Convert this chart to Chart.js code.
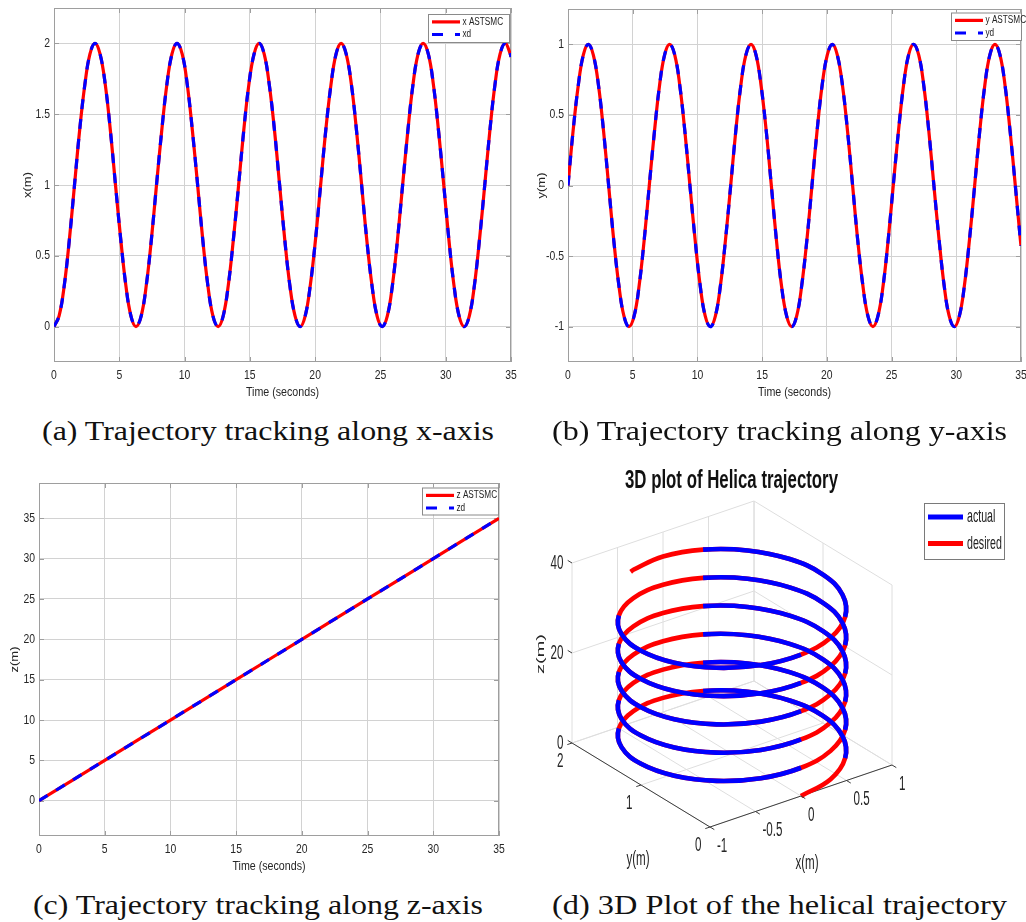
<!DOCTYPE html>
<html>
<head>
<meta charset="utf-8">
<script src="https://cdn.jsdelivr.net/npm/chart.js@4.4.1/dist/chart.umd.min.js"></script>
<style>
html,body{margin:0;padding:0;background:#fff;}
body{width:1026px;height:922px;position:relative;overflow:hidden;}
canvas{position:absolute;}
.cap{position:absolute;font-family:"Liberation Serif","Times New Roman",serif;font-size:28px;line-height:28px;color:#111;white-space:nowrap;transform-origin:0 0;}
</style>
</head>
<body>
<canvas id="ca" width="530" height="410" style="left:0;top:0"></canvas>
<canvas id="cb" width="506" height="410" style="left:520px;top:0"></canvas>
<canvas id="cc" width="515" height="410" style="left:0;top:470px"></canvas>
<canvas id="cd" width="511" height="420" style="left:515px;top:455px"></canvas>
<div class="cap" id="capA">(a) Trajectory tracking along x-axis</div>
<div class="cap" id="capB">(b) Trajectory tracking along y-axis</div>
<div class="cap" id="capC">(c) Trajectory tracking along z-axis</div>
<div class="cap" id="capD">(d) 3D Plot of the helical trajectory</div>
<script>
// ---------------- data ----------------
const time = [
  0, 0.39, 0.79, 1.18, 1.57, 1.96, 2.36, 2.75, 3.14, 3.53, 3.93, 4.32, 4.71, 5.11, 5.50, 5.89,
  6.28, 6.68, 7.07, 7.46, 7.85, 8.25, 8.64, 9.03, 9.42, 9.82, 10.21, 10.60, 11.00, 11.39, 11.78, 12.17,
  12.57, 12.96, 13.35, 13.74, 14.14, 14.53, 14.92, 15.32, 15.71, 16.10, 16.49, 16.89, 17.28, 17.67, 18.06, 18.46,
  18.85, 19.24, 19.63, 20.03, 20.42, 20.81, 21.21, 21.60, 21.99, 22.38, 22.78, 23.17, 23.56, 23.95, 24.35, 24.74,
  25.13, 25.53, 25.92, 26.31, 26.70, 27.10, 27.49, 27.88, 28.27, 28.67, 29.06, 29.45, 29.85, 30.24, 30.63, 31.02,
  31.42, 31.81, 32.20, 32.59, 32.99, 33.38, 33.77, 34.16, 34.56, 34.95, 35
];
const xAstsmc = [
  0, 0.076, 0.293, 0.617, 1, 1.383, 1.707, 1.924, 2, 1.924, 1.707, 1.383, 1, 0.617, 0.293, 0.076,
  0, 0.076, 0.293, 0.617, 1, 1.383, 1.707, 1.924, 2, 1.924, 1.707, 1.383, 1, 0.617, 0.293, 0.076,
  0, 0.076, 0.293, 0.617, 1, 1.383, 1.707, 1.924, 2, 1.924, 1.707, 1.383, 1, 0.617, 0.293, 0.076,
  0, 0.076, 0.293, 0.617, 1, 1.383, 1.707, 1.924, 2, 1.924, 1.707, 1.383, 1, 0.617, 0.293, 0.076,
  0, 0.076, 0.293, 0.617, 1, 1.383, 1.707, 1.924, 2, 1.924, 1.707, 1.383, 1, 0.617, 0.293, 0.076,
  0, 0.076, 0.293, 0.617, 1, 1.383, 1.707, 1.924, 2, 1.924, 1.904
];
const xDesired = [
  0, 0.076, 0.293, 0.617, 1, 1.383, 1.707, 1.924, 2, 1.924, 1.707, 1.383, 1, 0.617, 0.293, 0.076,
  0, 0.076, 0.293, 0.617, 1, 1.383, 1.707, 1.924, 2, 1.924, 1.707, 1.383, 1, 0.617, 0.293, 0.076,
  0, 0.076, 0.293, 0.617, 1, 1.383, 1.707, 1.924, 2, 1.924, 1.707, 1.383, 1, 0.617, 0.293, 0.076,
  0, 0.076, 0.293, 0.617, 1, 1.383, 1.707, 1.924, 2, 1.924, 1.707, 1.383, 1, 0.617, 0.293, 0.076,
  0, 0.076, 0.293, 0.617, 1, 1.383, 1.707, 1.924, 2, 1.924, 1.707, 1.383, 1, 0.617, 0.293, 0.076,
  0, 0.076, 0.293, 0.617, 1, 1.383, 1.707, 1.924, 2, 1.924, 1.904
];
const yAstsmc = [
  0, 0.383, 0.707, 0.924, 1, 0.924, 0.707, 0.383, 0, -0.383, -0.707, -0.924, -1, -0.924, -0.707, -0.383,
  0, 0.383, 0.707, 0.924, 1, 0.924, 0.707, 0.383, 0, -0.383, -0.707, -0.924, -1, -0.924, -0.707, -0.383,
  0, 0.383, 0.707, 0.924, 1, 0.924, 0.707, 0.383, 0, -0.383, -0.707, -0.924, -1, -0.924, -0.707, -0.383,
  0, 0.383, 0.707, 0.924, 1, 0.924, 0.707, 0.383, 0, -0.383, -0.707, -0.924, -1, -0.924, -0.707, -0.383,
  0, 0.383, 0.707, 0.924, 1, 0.924, 0.707, 0.383, 0, -0.383, -0.707, -0.924, -1, -0.924, -0.707, -0.383,
  0, 0.383, 0.707, 0.924, 1, 0.924, 0.707, 0.383, 0, -0.383, -0.428
];
const yDesired = [
  0, 0.383, 0.707, 0.924, 1, 0.924, 0.707, 0.383, 0, -0.383, -0.707, -0.924, -1, -0.924, -0.707, -0.383,
  0, 0.383, 0.707, 0.924, 1, 0.924, 0.707, 0.383, 0, -0.383, -0.707, -0.924, -1, -0.924, -0.707, -0.383,
  0, 0.383, 0.707, 0.924, 1, 0.924, 0.707, 0.383, 0, -0.383, -0.707, -0.924, -1, -0.924, -0.707, -0.383,
  0, 0.383, 0.707, 0.924, 1, 0.924, 0.707, 0.383, 0, -0.383, -0.707, -0.924, -1, -0.924, -0.707, -0.383,
  0, 0.383, 0.707, 0.924, 1, 0.924, 0.707, 0.383, 0, -0.383, -0.707, -0.924, -1, -0.924, -0.707, -0.383,
  0, 0.383, 0.707, 0.924, 1, 0.924, 0.707, 0.383, 0, -0.383, -0.428
];
const zTime    = [0, 5, 10, 15, 20, 25, 30, 35];
const zAstsmc  = [0, 5, 10, 15, 20, 25, 30, 35];
const zDesired = [0, 5, 10, 15, 20, 25, 30, 35];

// tick labels
const timeTicks = [0, 5, 10, 15, 20, 25, 30, 35];
const xPosTicks = [0, 0.5, 1, 1.5, 2];
const yPosTicks = [-1, -0.5, 0, 0.5, 1];
const zPosTicks = [0, 5, 10, 15, 20, 25, 30, 35];
const helixXTicks = [-1, -0.5, 0, 0.5, 1];
const helixYTicks = [0, 1, 2];
const helixZTicks = [0, 20, 40];
const helixXLim = [-1, 1], helixYLim = [0, 2], helixZLim = [0, 40];

// ---------------- helpers ----------------
const SANS = '"Liberation Sans", Arial, Helvetica, sans-serif';
function txt(ctx, s, x, y, o) {
  ctx.save();
  ctx.translate(x, y);
  ctx.scale(o.sx || 1, 1);
  if (o.rot) ctx.rotate(o.rot);
  ctx.font = o.font;
  ctx.fillStyle = o.color || '#262626';
  ctx.textAlign = o.align || 'center';
  ctx.textBaseline = o.baseline || 'middle';
  ctx.fillText(s, 0, 0);
  ctx.restore();
}
function fmt(v) { return String(v); }

const matlabPlugin = {
  id: 'matlab',
  beforeDatasetsDraw(chart, args, o) {
    const ctx = chart.ctx, a = chart.chartArea, xs = chart.scales.x, ys = chart.scales.y;
    ctx.save();
    ctx.strokeStyle = '#9e9e9e'; ctx.lineWidth = 1;
    ctx.strokeRect(Math.round(a.left) + 0.5, Math.round(a.top) + 0.5, Math.round(a.right - a.left) - 1, Math.round(a.bottom - a.top) - 1);
    ctx.beginPath();
    o.xTicks.forEach(v => {
      const p = Math.round(xs.getPixelForValue(v)) + 0.5;
      ctx.moveTo(p, a.bottom); ctx.lineTo(p, a.bottom - 5);
      ctx.moveTo(p, a.top); ctx.lineTo(p, a.top + 5);
    });
    o.yTicks.forEach(v => {
      const p = Math.round(ys.getPixelForValue(v)) + 0.5;
      ctx.moveTo(a.left, p); ctx.lineTo(a.left + 5, p);
      ctx.moveTo(a.right, p); ctx.lineTo(a.right - 5, p);
    });
    ctx.stroke();
    ctx.restore();
  },
  afterDraw(chart, args, o) {
    const ctx = chart.ctx, a = chart.chartArea, xs = chart.scales.x, ys = chart.scales.y;
    const f = '13px ' + SANS, sx = 0.8;
    o.xTicks.forEach(v => txt(ctx, fmt(v), xs.getPixelForValue(v), a.bottom + 13.7, {font: f, sx}));
    o.yTicks.forEach(v => txt(ctx, fmt(v), a.left - 4, ys.getPixelForValue(v), {font: f, sx, align: 'right'}));
    txt(ctx, o.xTitle, (a.left + a.right) / 2, a.bottom + 30, {font: f, sx: 0.82});
    txt(ctx, o.yTitle, a.left - o.yTitleDx, (a.top + a.bottom) / 2, {font: f, sx: 0.8, rot: -Math.PI / 2});
    // legend
    const L = o.legend;
    ctx.save();
    ctx.fillStyle = '#fff';
    ctx.fillRect(L.x, L.y, L.w, L.h);
    ctx.strokeStyle = '#8a8a8a'; ctx.lineWidth = 1;
    ctx.strokeRect(L.x + 0.5, L.y + 0.5, L.w, L.h);
    L.items.forEach((di, i) => {
      const ds = chart.data.datasets[di];
      const yy = L.y + 7.9 + i * 12.6;
      ctx.save();
      ctx.strokeStyle = ds.borderColor; ctx.lineWidth = 3.2;
      ctx.setLineDash(ds.borderDash && ds.borderDash.length ? [11, 12] : []);
      ctx.beginPath(); ctx.moveTo(L.x + 4, yy); ctx.lineTo(L.x + 32, yy); ctx.stroke();
      ctx.restore();
      txt(ctx, ds.label, L.x + 34.5, yy, {font: '10px ' + SANS, sx: 0.82, align: 'left', color: '#222'});
    });
    ctx.restore();
  }
};

function ser(label, xs, ys, color, dash, order) {
  return {
    label, data: xs.map((t, i) => ({x: t, y: ys[i]})),
    borderColor: color, backgroundColor: color, borderWidth: 3.2,
    borderDash: dash, borderCapStyle: 'butt', pointRadius: 0, tension: 0.4, fill: false, order
  };
}

function make2D(id, pad, yMin, yMax, yTicks, series, o) {
  return new Chart(document.getElementById(id), {
    type: 'line',
    data: {datasets: series},
    options: {
      responsive: false, animation: false, events: [],
      layout: {padding: pad},
      plugins: {legend: {display: false}, tooltip: {enabled: false}, matlab: Object.assign({xTicks: timeTicks, yTicks}, o)},
      scales: {
        x: {
          type: 'linear', min: 0, max: 35,
          afterBuildTicks: s => { s.ticks = timeTicks.map(v => ({value: v})); },
          afterFit: s => { s.height = 0; },
          ticks: {display: false}, border: {display: false},
          grid: {color: '#d2d2d2', lineWidth: 1, drawTicks: false}
        },
        y: {
          type: 'linear', min: yMin, max: yMax,
          afterBuildTicks: s => { s.ticks = yTicks.map(v => ({value: v})); },
          afterFit: s => { s.width = 0; },
          ticks: {display: false}, border: {display: false},
          grid: {color: '#d2d2d2', lineWidth: 1, drawTicks: false}
        }
      }
    },
    plugins: [matlabPlugin]
  });
}

// (a)
make2D('ca', {left: 54, top: 8, right: 19, bottom: 48}, -0.25, 2.25, xPosTicks, [
  ser('x ASTSMC', time, xAstsmc, '#ff0000', [], 2),
  ser('xd', time, xDesired, '#0000ff', [10, 10], 1)
], {xTitle: 'Time (seconds)', yTitle: 'x(m)', yTitleDx: 26, legend: {x: 428, y: 14, w: 81, h: 28, items: [0, 1]}});

// (b)
make2D('cb', {left: 48, top: 9, right: 5, bottom: 48}, -1.25, 1.25, yPosTicks, [
  ser('y ASTSMC', time, yAstsmc, '#ff0000', [], 2),
  ser('yd', time, yDesired, '#0000ff', [10, 10], 1)
], {xTitle: 'Time (seconds)', yTitle: 'y(m)', yTitleDx: 26, legend: {x: 431, y: 12.5, w: 70, h: 27.5, items: [0, 1]}});

// (c)
make2D('cc', {left: 39, top: 13, right: 16, bottom: 44}, -4.37, 39.37, zPosTicks, [
  ser('z ASTSMC', zTime, zAstsmc, '#ff0000', [], 2),
  ser('zd', zTime, zDesired, '#0000ff', [10, 10], 1)
], {xTitle: 'Time (seconds)', yTitle: 'z(m)', yTitleDx: 24, legend: {x: 422, y: 17.5, w: 76, h: 27, items: [0, 1]}});

// ---------------- (d) 3D helix ----------------
// view: oblique projection of the MATLAB default 3-D view (az -37.5, el 30) fitted to the panel
function proj(x, y, z) {
  const u = (x - helixXLim[0]) / (helixXLim[1] - helixXLim[0]);
  const v = (y - helixYLim[0]) / (helixYLim[1] - helixYLim[0]);
  const w = (z - helixZLim[0]) / (helixZLim[1] - helixZLim[0]);
  return {x: 710 + 182 * u - 138 * v, y: 827 - 62 * u - 84 * v - 180 * w};
}
const ds3 = [];
function seg3(a, b, color, width, order) {
  ds3.push({data: [proj(a[0], a[1], a[2]), proj(b[0], b[1], b[2])], showLine: true, borderColor: color,
    borderWidth: width, pointRadius: 0, tension: 0, order});
}
const [X0, X1] = helixXLim, [Y0, Y1] = helixYLim, [Z0, Z1] = helixZLim;
const G = '#dedede';
helixXTicks.forEach(v => seg3([v, Y0, Z0], [v, Y1, Z0], G, 1, 10));
helixYTicks.forEach(v => seg3([X0, v, Z0], [X1, v, Z0], G, 1, 10));
helixXTicks.forEach(v => seg3([v, Y1, Z0], [v, Y1, Z1], G, 1, 10));
helixZTicks.forEach(v => seg3([X0, Y1, v], [X1, Y1, v], G, 1, 10));
helixYTicks.forEach(v => seg3([X1, v, Z0], [X1, v, Z1], G, 1, 10));
helixZTicks.forEach(v => seg3([X1, Y0, v], [X1, Y1, v], G, 1, 10));
seg3([X0, Y0, Z0], [X1, Y0, Z0], '#3c3c3c', 1, 8);
seg3([X0, Y0, Z0], [X0, Y1, Z0], '#3c3c3c', 1, 8);

function blueVisible(i) {
  if (i >= time.length - 1) return false;
  const m = (time[i] + time[i + 1]) / 2;
  const d = (m % (2 * Math.PI)) * 180 / Math.PI;
  return (d > 52 && d < 152) || (d > 230 && d < 357);
}
ds3.push({label: 'desired', data: time.map((t, i) => proj(yDesired[i], xDesired[i], t)), showLine: true,
  borderColor: '#ff0000', borderWidth: 4.6, pointRadius: 0, tension: 0.4, order: 2});
ds3.push({label: 'actual', data: time.map((t, i) => proj(yAstsmc[i], xAstsmc[i], t)), showLine: true,
  borderColor: '#0000ff', borderWidth: 4.6, pointRadius: 0, tension: 0.4, order: 1,
  segment: {borderColor: c => blueVisible(c.p0DataIndex) ? '#0000ff' : 'rgba(0,0,0,0)'}});

const helixPlugin = {
  id: 'helix3d',
  afterDraw(chart) {
    const ctx = chart.ctx;
    const X = v => chart.scales.x.getPixelForValue(v), Y = v => chart.scales.y.getPixelForValue(v);
    const f = '20px ' + SANS, sx = 0.58;
    ctx.save();
    ctx.strokeStyle = '#3c3c3c'; ctx.lineWidth = 1;
    ctx.beginPath();
    helixXTicks.forEach(v => { const p = proj(v, Y0, Z0); ctx.moveTo(X(p.x), Y(p.y)); ctx.lineTo(X(p.x) + 4.3, Y(p.y) + 2.6); });
    helixYTicks.forEach(v => { const p = proj(X0, v, Z0); ctx.moveTo(X(p.x), Y(p.y)); ctx.lineTo(X(p.x) - 4.7, Y(p.y) + 1.6); });
    helixZTicks.forEach(v => { const p = proj(X0, Y1, v); ctx.moveTo(X(p.x), Y(p.y)); ctx.lineTo(X(p.x) - 4.3, Y(p.y) - 2.6); });
    ctx.stroke();
    ctx.restore();
    helixXTicks.forEach(v => { const p = proj(v, Y0, Z0); txt(ctx, fmt(v), X(p.x) + 7, Y(p.y) + 19, {font: f, sx, align: 'left'}); });
    helixYTicks.forEach(v => { const p = proj(X0, v, Z0); txt(ctx, fmt(v), X(p.x) - 8.5, Y(p.y) + 18, {font: f, sx, align: 'right'}); });
    helixZTicks.forEach(v => { const p = proj(X0, Y1, v); txt(ctx, fmt(v), X(p.x) - 8.5, Y(p.y), {font: f, sx, align: 'right'}); });
    const mx = proj(0, Y0, Z0), my = proj(X0, 1, Z0), mz = proj(X0, Y1, 20);
    txt(ctx, 'x(m)', X(mx.x) + 6, Y(mx.y) + 67, {font: f, sx});
    txt(ctx, 'y(m)', X(my.x) - 3, Y(my.y) + 74, {font: f, sx});
    txt(ctx, 'z(m)', X(mz.x) - 31, Y(mz.y) + 1, {font: f, sx, rot: -Math.PI / 2});
    // title
    const title = '3D plot of Helica trajectory';
    ctx.font = 'bold 25px ' + SANS;
    const tw = ctx.measureText(title).width;
    txt(ctx, title, X(731.5), Y(488), {font: 'bold 25px ' + SANS, sx: 213 / tw, baseline: 'alphabetic', color: '#111'});
    // legend
    const bx = X(924), by = Y(503), bw = 80, bh = 56;
    ctx.save();
    ctx.fillStyle = '#fff'; ctx.fillRect(bx, by, bw, bh);
    ctx.strokeStyle = '#7a7a7a'; ctx.lineWidth = 1; ctx.strokeRect(bx + 0.5, by + 0.5, bw, bh);
    const items = [chart.data.datasets[chart.data.datasets.length - 1], chart.data.datasets[chart.data.datasets.length - 2]];
    items.forEach((ds, i) => {
      const yy = by + 14 + i * 26.5;
      ctx.strokeStyle = ds.borderColor; ctx.lineWidth = 5;
      ctx.beginPath(); ctx.moveTo(bx + 4, yy); ctx.lineTo(bx + 39, yy); ctx.stroke();
      txt(ctx, ds.label, bx + 43, yy, {font: '19px ' + SANS, sx: 0.56, align: 'left', color: '#222'});
    });
    ctx.restore();
  }
};

new Chart(document.getElementById('cd'), {
  type: 'scatter',
  data: {datasets: ds3},
  options: {
    responsive: false, animation: false, events: [],
    layout: {padding: 0},
    plugins: {legend: {display: false}, tooltip: {enabled: false}},
    scales: {
      x: {type: 'linear', display: false, min: 515, max: 1026},
      y: {type: 'linear', display: false, min: 455, max: 875, reverse: true}
    }
  },
  plugins: [helixPlugin]
});

// ---------------- captions ----------------
const caps = [
  {id: 'capA', left: 42, right: 494, base: 440},
  {id: 'capB', left: 552, right: 1007, base: 440},
  {id: 'capC', left: 33, right: 483, base: 914},
  {id: 'capD', left: 552, right: 1007, base: 914}
];
caps.forEach(c => {
  const el = document.getElementById(c.id);
  const w = el.getBoundingClientRect().width;
  el.style.left = c.left + 'px';
  el.style.top = (c.base - 23.2) + 'px';
  el.style.transform = 'scaleX(' + ((c.right - c.left) / w) + ')';
});
</script>
</body>
</html>
